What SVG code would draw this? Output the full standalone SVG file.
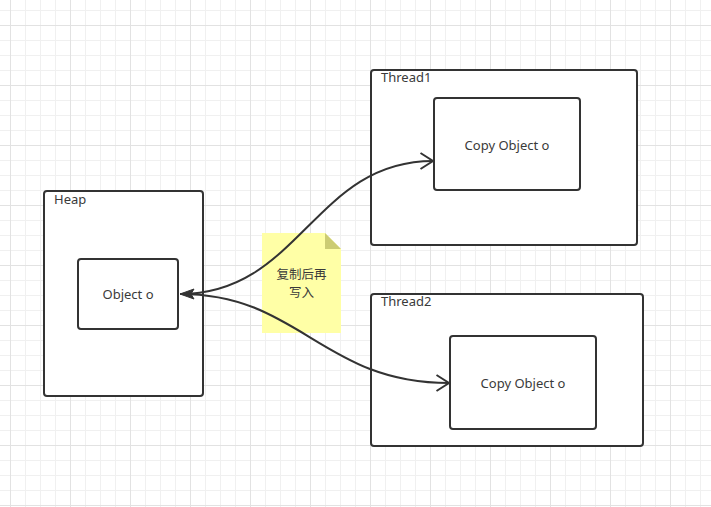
<svg xmlns="http://www.w3.org/2000/svg" width="711" height="507" viewBox="0 0 711 507">
<defs>
<pattern id="grid" patternUnits="userSpaceOnUse" x="10" y="25" width="60" height="60">
<rect x="15" y="0" width="1" height="60" fill="#f0f0f0"/>
<rect x="30" y="0" width="1" height="60" fill="#f0f0f0"/>
<rect x="45" y="0" width="1" height="60" fill="#f0f0f0"/>
<rect x="0" y="15" width="60" height="1" fill="#f0f0f0"/>
<rect x="0" y="30" width="60" height="1" fill="#f0f0f0"/>
<rect x="0" y="45" width="60" height="1" fill="#f0f0f0"/>
<rect x="0" y="0" width="1" height="60" fill="#e2e2e2"/>
<rect x="0" y="0" width="60" height="1" fill="#e2e2e2"/>
</pattern>
<marker id="open" markerUnits="userSpaceOnUse" markerWidth="20" markerHeight="20" refX="14" refY="10" orient="auto">
<path d="M1.5,2 L14,10 L1.5,18" fill="none" stroke="#333" stroke-width="2"/>
</marker>
<marker id="filled" markerUnits="userSpaceOnUse" markerWidth="20" markerHeight="20" refX="1" refY="10" orient="auto">
<path d="M1,10 L15,5 L12,10 L15,15 Z" fill="#333" stroke="#333" stroke-width="1"/>
</marker>
</defs>
<style>
.box{fill:#ffffff;stroke:#333333;stroke-width:2}
.lbl{font-family:"Noto Sans","Noto Sans CJK SC",sans-serif;font-size:13px;fill:#3a3a3a}
.cjk{font-family:"Noto Sans CJK SC",sans-serif;font-size:12.5px;fill:#3a3a3a;text-anchor:middle}
.mid{text-anchor:middle}
.edge{fill:none;stroke:#333333;stroke-width:2}
</style>
<rect x="0" y="0" width="711" height="507" fill="#ffffff"/>
<rect x="0" y="0" width="711" height="507" fill="url(#grid)"/>
<g id="heap">
<rect class="box" x="44" y="191" width="159" height="205" rx="3"/>
<text class="lbl" x="54" y="204">Heap</text>
</g>
<g id="object-o">
<rect class="box" x="78" y="259" width="100" height="70" rx="3"/>
<text class="lbl mid" x="128" y="298.5">Object o</text>
</g>
<g id="thread1">
<rect class="box" x="371" y="70" width="266" height="175" rx="3"/>
<text class="lbl" x="381" y="82">Thread1</text>
</g>
<g id="copy1">
<rect class="box" x="434" y="98" width="146" height="92" rx="3"/>
<text class="lbl mid" x="507" y="149.5">Copy Object o</text>
</g>
<g id="thread2">
<rect class="box" x="371" y="294" width="272" height="152" rx="3"/>
<text class="lbl" x="381" y="306">Thread2</text>
</g>
<g id="copy2">
<rect class="box" x="450" y="336" width="146" height="93" rx="3"/>
<text class="lbl mid" x="523" y="387.5">Copy Object o</text>
</g>
<g id="note">
<path d="M262,233 L325,233 L341,249 L341,333 L262,333 Z" fill="#ffffa6"/>
<path d="M325,233 L325,249 L341,249 Z" fill="#cccc73"/>
<text class="cjk" x="301.5" y="279">复制后再</text>
<text class="cjk" x="301.5" y="297">写入</text>
</g>
<g id="connectors">
<path class="edge" d="M180,294 C300,294 314,161 433,161" marker-start="url(#filled)" marker-end="url(#open)"/>
<path class="edge" d="M180,294 C300,294 322,383 449,383" marker-end="url(#open)"/>
</g>
</svg>
